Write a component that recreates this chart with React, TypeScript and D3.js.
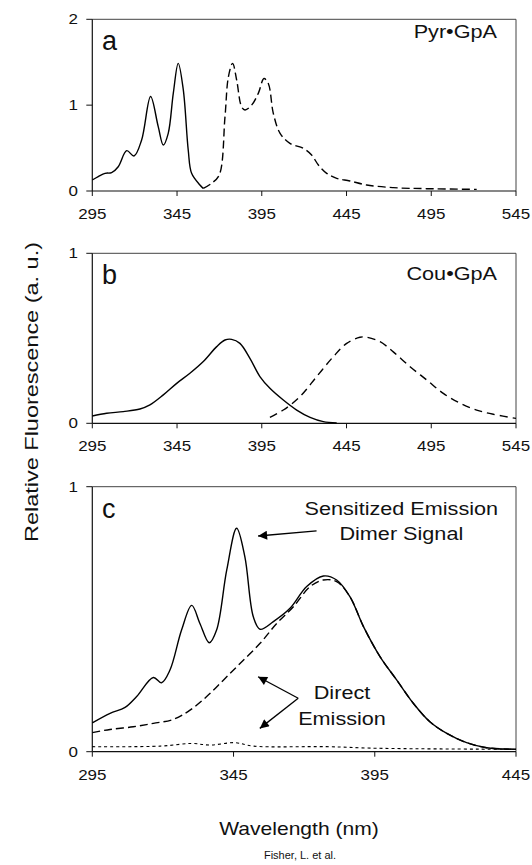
import React from 'react';
import * as d3 from 'd3';

// ---------- data (wavelength nm, relative fluorescence) ----------
const pyrExcitation: [number, number][] = [
  [295, 0.128], [298.5, 0.167], [302.5, 0.206], [306.4, 0.214], [310.3, 0.283],
  [315.3, 0.47], [319.6, 0.408], [324.1, 0.594], [329.4, 1.1], [333.9, 0.75],
  [336.9, 0.536], [339.8, 0.672], [342.8, 1.14], [345.7, 1.487], [348.7, 1.177],
  [351.6, 0.478], [353.6, 0.206], [358.5, 0.07], [360.5, 0.03],
];
const pyrEmission: [number, number][] = [
  [360.5, 0.03], [365.4, 0.09], [369.9, 0.186], [373.3, 0.866], [375.3, 1.33],
  [377.8, 1.487], [380.2, 1.29], [383.1, 0.98], [385.1, 0.944], [389.0, 1.0],
  [393.0, 1.14], [396.3, 1.31], [398.9, 1.25], [401.8, 0.905], [405.8, 0.672],
  [411.6, 0.555], [419.5, 0.497], [424.4, 0.42], [428.4, 0.303], [433.3, 0.206],
  [439.2, 0.148], [447.0, 0.117], [456.9, 0.07], [472.6, 0.039], [492.3, 0.027],
  [521.8, 0.019],
];
const couExcitation: [number, number][] = [
  [295, 0.043], [303.5, 0.059], [313.3, 0.069], [323.1, 0.084], [329.0, 0.108],
  [336.9, 0.167], [344.8, 0.235], [352.6, 0.294], [360.5, 0.363], [368.4, 0.451],
  [373.3, 0.49], [377.2, 0.494], [382.1, 0.47], [388.0, 0.382], [393.9, 0.275],
  [399.8, 0.206], [407.7, 0.137], [415.6, 0.078], [423.5, 0.035], [431.3, 0.01],
  [439.2, 0.002],
];
const couEmission: [number, number][] = [
  [399.8, 0.035], [407.7, 0.078], [417.5, 0.157], [427.4, 0.275], [437.2, 0.392],
  [445.1, 0.47], [452.9, 0.506], [456.9, 0.506], [464.8, 0.48], [472.6, 0.42],
  [482.5, 0.333], [492.3, 0.255], [502.1, 0.176], [512.0, 0.118], [521.8, 0.078],
  [531.6, 0.053], [545, 0.029],
];
const dimerSignal: [number, number][] = [
  [295, 0.109], [301.3, 0.145], [306.6, 0.167], [310.7, 0.208], [316.6, 0.28],
  [319.5, 0.26], [322.5, 0.308], [326.6, 0.459], [330.2, 0.552], [333.1, 0.484],
  [336.4, 0.411], [339.0, 0.459], [342.6, 0.686], [346.1, 0.843], [349.0, 0.736],
  [352.0, 0.509], [354.4, 0.462], [359.1, 0.491], [365.0, 0.541], [370.9, 0.623],
  [376.8, 0.663], [381.5, 0.648], [386.2, 0.585], [391.0, 0.472], [396.9, 0.358],
  [402.8, 0.27], [408.7, 0.182], [414.5, 0.113], [420.5, 0.069], [427.5, 0.034],
  [434.6, 0.015], [445, 0.009],
];
const couDirect: [number, number][] = [
  [295, 0.072], [301.3, 0.084], [309.5, 0.094], [316.6, 0.107], [323.7, 0.122],
  [329.6, 0.157], [335.5, 0.208], [341.4, 0.27], [347.3, 0.333], [354.4, 0.409],
  [360.3, 0.484], [366.2, 0.547], [372.1, 0.623], [376.8, 0.648], [381.5, 0.642],
  [386.2, 0.585], [391.0, 0.472], [396.9, 0.358], [402.8, 0.27], [408.7, 0.182],
  [414.5, 0.113], [420.5, 0.069], [427.5, 0.034], [434.6, 0.015], [445, 0.009],
];
const pyrDirect: [number, number][] = [
  [295, 0.019], [319, 0.021], [330.2, 0.031], [336.7, 0.025], [345.5, 0.034],
  [352, 0.021], [378, 0.019], [395.7, 0.013], [445, 0.009],
];

const wideTicks = [295, 345, 395, 445, 495, 545];
const narrowTicks = [295, 345, 395, 445];
const yTicksA = [0, 1, 2];
const yTicksBC = [0, 1];

// ---------- layout ----------
const W = 532;
const H = 865;
const LEFT = 92.3;
const RIGHT = 516;
const SX = 1.17;
const FONT = "'Liberation Sans', Arial, Helvetica, sans-serif";

type Series = { data: [number, number][]; dash?: string; width?: number };

function SText(props: {
  x: number; y: number; size: number; anchor?: string; children: React.ReactNode;
}) {
  const { x, y, size, anchor = 'start', children } = props;
  return (
    <text
      transform={`translate(${x},${y}) scale(${SX},1)`}
      fontSize={size}
      fontFamily={FONT}
      textAnchor={anchor}
      fill="#111"
    >
      {children}
    </text>
  );
}

function Panel(props: {
  top: number; bottom: number; xDomain: [number, number]; xTicks: number[];
  yMax: number; yTicks: number[]; series: Series[]; letter: string;
  label?: string; labelY?: number;
  extra?: (x: d3.ScaleLinear<number, number>, y: d3.ScaleLinear<number, number>) => React.ReactNode;
}) {
  const { top, bottom, xDomain, xTicks, yMax, yTicks, series, letter, label, labelY, extra } = props;
  const x = d3.scaleLinear().domain(xDomain).range([LEFT, RIGHT]);
  const y = d3.scaleLinear().domain([0, yMax]).range([bottom, top]);
  const line = d3
    .line<[number, number]>()
    .x((d) => x(d[0]))
    .y((d) => y(d[1]))
    .curve(d3.curveCatmullRom.alpha(0.5));
  return (
    <g>
      {/* frame */}
      <line x1={LEFT} x2={RIGHT} y1={top} y2={top} stroke="#444" strokeWidth={1} />
      <line x1={RIGHT} x2={RIGHT} y1={top} y2={bottom} stroke="#444" strokeWidth={1} />
      <line x1={LEFT} x2={LEFT} y1={top} y2={bottom} stroke="#111" strokeWidth={1.2} />
      <line x1={LEFT} x2={RIGHT} y1={bottom} y2={bottom} stroke="#111" strokeWidth={1.2} />
      {xTicks.map((t) => (
        <g key={'x' + t}>
          <line x1={x(t)} x2={x(t)} y1={bottom} y2={bottom + 5} stroke="#111" strokeWidth={1} />
          <SText x={x(t)} y={bottom + 28} size={14.5} anchor="middle">{t}</SText>
        </g>
      ))}
      {yTicks.map((t) => (
        <g key={'y' + t}>
          <line x1={LEFT - 6} x2={LEFT} y1={y(t)} y2={y(t)} stroke="#111" strokeWidth={1} />
          <SText x={78} y={y(t) + 5} size={14.5} anchor="end">{t}</SText>
        </g>
      ))}
      {series.map((s, i) => (
        <path
          key={i}
          d={line(s.data) || ''}
          fill="none"
          stroke="#000"
          strokeWidth={s.width ?? 1.4}
          strokeDasharray={s.dash}
        />
      ))}
      <text x={102} y={top + 31} fontSize={27} fontFamily={FONT} fill="#111">{letter}</text>
      {label && (
        <SText x={497} y={labelY ?? top + 20} size={18.5} anchor="end">{label}</SText>
      )}
      {extra && extra(x, y)}
    </g>
  );
}

export default function App() {
  return (
    <svg
      width={W}
      height={H}
      viewBox={`0 0 ${W} ${H}`}
      style={{ position: 'absolute', left: 0, top: 0, background: '#fff' }}
    >
      <defs>
        <marker
          id="arrow"
          viewBox="0 0 10 10"
          refX="10"
          refY="5"
          markerWidth="12"
          markerHeight="9"
          markerUnits="userSpaceOnUse"
          orient="auto"
        >
          <path d="M0,0 L10,5 L0,10 z" fill="#000" />
        </marker>
      </defs>
      <rect x={0} y={0} width={W} height={H} fill="#fff" />

      <Panel
        top={19.3}
        bottom={191}
        xDomain={[295, 545]}
        xTicks={wideTicks}
        yMax={2}
        yTicks={yTicksA}
        letter="a"
        label="Pyr•GpA"
        labelY={38}
        series={[
          { data: pyrExcitation },
          { data: pyrEmission, dash: '8,4' },
        ]}
      />
      <Panel
        top={253.3}
        bottom={423.3}
        xDomain={[295, 545]}
        xTicks={wideTicks}
        yMax={1}
        yTicks={yTicksBC}
        letter="b"
        label="Cou•GpA"
        labelY={280}
        series={[
          { data: couExcitation },
          { data: couEmission, dash: '8,5' },
        ]}
      />
      <Panel
        top={486.7}
        bottom={751.7}
        xDomain={[295, 445]}
        xTicks={narrowTicks}
        yMax={1}
        yTicks={yTicksBC}
        letter="c"
        series={[
          { data: pyrDirect, dash: '3,3', width: 1.1 },
          { data: couDirect, dash: '8,4' },
          { data: dimerSignal },
        ]}
        extra={(x, y) => (
          <g>
            <SText x={x(404.4)} y={y(0.893)} size={18.5} anchor="middle">Sensitized Emission</SText>
            <SText x={x(404.4)} y={y(0.799)} size={18.5} anchor="middle">Dimer Signal</SText>
            <SText x={x(383.4)} y={y(0.199)} size={18.5} anchor="middle">Direct</SText>
            <SText x={x(383.4)} y={y(0.101)} size={18.5} anchor="middle">Emission</SText>
            <line
              x1={x(374.4)} y1={y(0.833)} x2={x(353.7)} y2={y(0.814)}
              stroke="#000" strokeWidth={1.3} markerEnd="url(#arrow)"
            />
            <line
              x1={x(367.9)} y1={y(0.2015)} x2={x(353.7)} y2={y(0.283)}
              stroke="#000" strokeWidth={1.3} markerEnd="url(#arrow)"
            />
            <line
              x1={x(367.9)} y1={y(0.2015)} x2={x(354.3)} y2={y(0.088)}
              stroke="#000" strokeWidth={1.3} markerEnd="url(#arrow)"
            />
          </g>
        )}
      />

      <text
        transform="translate(38,392) rotate(-90)"
        fontSize={18}
        fontFamily={FONT}
        textAnchor="middle"
        textLength={300}
        lengthAdjust="spacingAndGlyphs"
        fill="#111"
      >
        Relative Fluorescence (a. u.)
      </text>
      <SText x={299} y={835} size={18} anchor="middle">Wavelength (nm)</SText>
      <text x={300} y={859} fontSize={11} fontFamily={FONT} textAnchor="middle" fill="#111">
        Fisher, L. et al.
      </text>
    </svg>
  );
}
